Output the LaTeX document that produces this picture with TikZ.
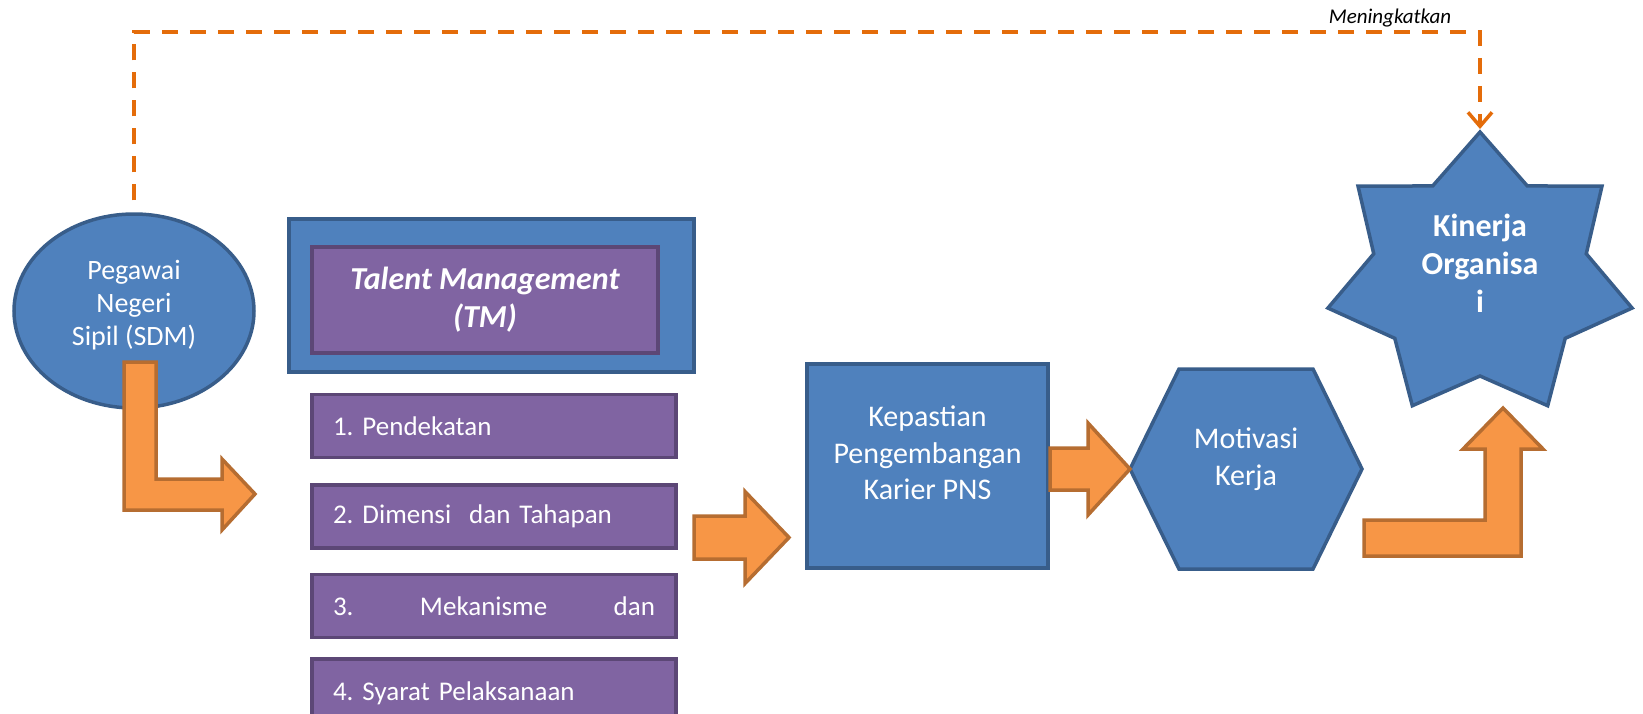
\documentclass[tikz,border=0pt]{standalone}
\usepackage{fontspec}
\setmainfont{Carlito}
\usepackage{xcolor}
\usepackage{tikz}
\usetikzlibrary{arrows.meta,positioning,shapes.geometric,calc}
\frenchspacing

\definecolor{nodeblue}{HTML}{4F81BD}
\definecolor{nodeline}{HTML}{385D8A}
\definecolor{tmpurple}{HTML}{8064A2}
\definecolor{tmline}{HTML}{5C4776}
\definecolor{arroworange}{HTML}{F79646}
\definecolor{arrowline}{HTML}{B66D31}
\definecolor{dashorange}{HTML}{E46C0A}

\begin{document}
\begin{tikzpicture}[x=1pt,y=1pt,>=Latex,
  bluebox/.style={draw=nodeline,fill=nodeblue,line width=3.5pt},
  purplebox/.style={draw=tmline,fill=tmpurple,line width=3.5pt},
  itembox/.style={purplebox,text width=322pt,inner xsep=21pt,inner ysep=0pt,minimum height=63pt,align=left,text=white,font=\fontsize{27}{33}\selectfont},
  whitetext/.style={text=white,align=center,inner sep=0pt},
  blockarrow/.style={draw=arrowline,fill=arroworange,line width=3.5pt,line join=miter},
  dashline/.style={draw=dashorange,line width=3.5pt,dash pattern=on 16pt off 12pt}]
\useasboundingbox (0,0) rectangle (1643,-713);
% Pegawai Negeri Sipil
\node[bluebox,ellipse,minimum width=240pt,minimum height=194pt] (sdm) at (134,-311) {};
\node[whitetext,font=\fontsize{28}{33}\selectfont] (sdmlbl) at ([yshift=6]sdm.center) {Pegawai\\Negeri\\Sipil (SDM)};
% Talent Management
\node[bluebox,minimum width=405pt,minimum height=153pt] (tmframe) at (491.5,-295.5) {};
\node[purplebox,whitetext,minimum width=346pt,minimum height=106pt,font=\fontsize{32}{38}\selectfont\bfseries\itshape] (tm) at (485,-300) {Talent Management\\(TM)};
\node[itembox] (item1) at (494,-426) {1. Pendekatan};
\node[itembox,below=24pt of item1] (item2) {2. Dimensi~ dan Tahapan};
\node[itembox,below=23pt of item2] (item3) {3.\hfill Mekanisme\hfill dan};
\node[itembox,below=18pt of item3,minimum height=68pt] (item4) {4. Syarat Pelaksanaan};
% Kepastian karier
\node[bluebox,minimum width=241pt,minimum height=204pt] (karier) at (927.5,-466) {};
\node[whitetext,font=\fontsize{30}{36.5}\selectfont] (karierlbl) at ([yshift=13]karier.center) {Kepastian\\Pengembangan\\Karier PNS};
% Motivasi kerja
\coordinate (hexc) at (1246,-469);
\draw[bluebox] ([xshift=-116]hexc) coordinate (hexw) -- ++(49,100) -- ++(134,0) -- ++(49,-100) -- ++(-49,-100) -- ++(-134,0) -- cycle;
\node[whitetext,font=\fontsize{30}{36.5}\selectfont] (motivasi) at ([yshift=10]hexc) {Motivasi\\Kerja};
% Kinerja organisasi
\coordinate (starc) at (1480,-276);
\begin{scope}[shift={(starc)}]
  \draw[bluebox] (90:156 and 144) \foreach \k in {0,...,5} { -- ({90+180/7+\k*360/7}:109 and 100) -- ({90+(\k+1)*360/7}:156 and 144) } -- ({90+180/7+6*360/7}:109 and 100) -- cycle;
\end{scope}
\coordinate (startop) at ([yshift=144]starc);
\node[whitetext,font=\fontsize{32}{38}\selectfont\bfseries] (kinerja) at ([yshift=13]starc) {Kinerja\\Organisa\\i};
% block arrows
\draw[blockarrow] (124,-362) -- (156,-362) -- (156,-479) -- (222,-479) -- (222,-459) -- (255,-494) -- (222,-530) -- (222,-510) -- (124,-510) -- cycle;
\begin{scope}[shift={(789,-537.5)}]
  \draw[blockarrow] (0,0) -- (-44,46) -- (-44,21.5) -- (-95,21.5) -- (-95,-21.5) -- (-44,-21.5) -- (-44,-46) -- cycle;
\end{scope}
\begin{scope}[shift={(hexw)}]
  \draw[blockarrow] (0,0) -- (-42,46) -- (-42,21) -- (-80,21) -- (-80,-21) -- (-42,-21) -- (-42,-46) -- cycle;
\end{scope}
\draw[blockarrow] (1364,-520) -- (1485,-520) -- (1485,-449) -- (1463,-449) -- (1503,-408) -- (1543,-449) -- (1521,-449) -- (1521,-556) -- (1364,-556) -- cycle;
% dashed feedback line
\coordinate (rail) at (0,-32);
\draw[dashline,-{Straight Barb[length=14pt,width=24pt]}] ([yshift=12]sdm.north) -- (sdm.north |- rail) -| ([yshift=3]startop);
\node[font=\fontsize{21}{25}\selectfont\itshape] (meningkatkan) at (1390,-18) {Meningkatkan};
\end{tikzpicture}
\end{document}
